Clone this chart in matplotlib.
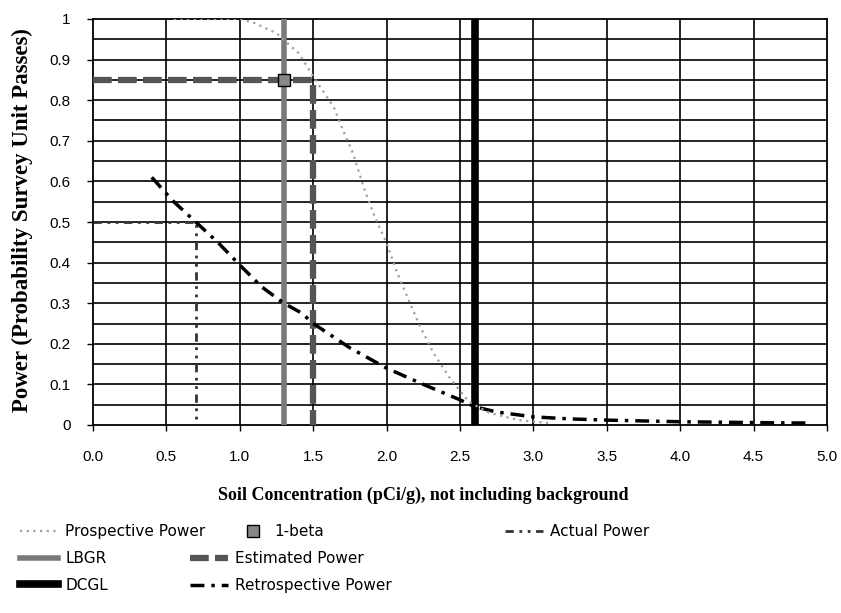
import matplotlib
matplotlib.use("Agg")
import matplotlib.pyplot as plt
from matplotlib.lines import Line2D
import numpy as np

# ---- data ----
prosp_x = [0.55, 0.8, 1.0, 1.1, 1.25, 1.4, 1.53, 1.64, 1.71, 1.77, 1.85, 1.92,
           2.0, 2.07, 2.15, 2.23, 2.32, 2.43, 2.56, 2.7, 2.9, 3.1]
prosp_y = [1.0, 1.0, 1.0, 0.99, 0.965, 0.916, 0.842, 0.783, 0.72, 0.67, 0.579, 0.512,
           0.448, 0.377, 0.308, 0.241, 0.177, 0.116, 0.057, 0.03, 0.012, 0.005]

retro_x = [0.4, 0.55, 0.7, 0.85, 1.0, 1.15, 1.3, 1.42, 1.5, 1.75, 2.0, 2.25, 2.5, 2.6,
           2.75, 3.0, 3.25, 3.5, 3.75, 4.0, 4.25, 4.5, 4.75, 4.9]
retro_y = [0.61, 0.55, 0.5, 0.45, 0.394, 0.34, 0.30, 0.276, 0.25, 0.19, 0.14, 0.10, 0.062, 0.045,
           0.032, 0.02, 0.015, 0.012, 0.01, 0.008, 0.007, 0.006, 0.005, 0.005]

est_x = [0.0, 1.5, 1.5]
est_y = [0.85, 0.85, 0.0]

actual_x = [0.0, 0.7, 0.7]
actual_y = [0.5, 0.5, 0.0]

lbgr = 1.3
dcgl = 2.6
beta_x = [1.3]
beta_y = [0.85]

x_ticks = [0.0, 0.5, 1.0, 1.5, 2.0, 2.5, 3.0, 3.5, 4.0, 4.5, 5.0]
x_tick_labels = ["0.0", "0.5", "1.0", "1.5", "2.0", "2.5", "3.0", "3.5", "4.0", "4.5", "5.0"]
y_ticks = [0, 0.1, 0.2, 0.3, 0.4, 0.5, 0.6, 0.7, 0.8, 0.9, 1]
y_tick_labels = ["0", "0.1", "0.2", "0.3", "0.4", "0.5", "0.6", "0.7", "0.8", "0.9", "1"]

# ---- figure ----
W, H = 841, 613
fig = plt.figure(figsize=(W/100, H/100), dpi=100)
ax = fig.add_axes([93/W, 1 - 425/H, (827-93)/W, (425-19)/H])
ax.set_xlim(0, 5)
ax.set_ylim(0, 1)

# grid
for gy in np.arange(0.05, 1.0, 0.05):
    ax.axhline(gy, color="black", lw=1.2, zorder=1)
for gx in x_ticks[1:-1]:
    ax.axvline(gx, color="black", lw=1.2, zorder=1)
for s in ax.spines.values():
    s.set_color("black")
    s.set_linewidth(1.3)

sty_prosp = dict(color="#a0a0a0", lw=1.6, linestyle=(0, (1, 2)))
sty_lbgr = dict(color="#7a7a7a", lw=4)
sty_dcgl = dict(color="black", lw=5.5)
sty_est = dict(color="#555555", lw=4.5, linestyle=(0, (3, 1)))
sty_retro = dict(color="black", lw=2.5, linestyle=(0, (4, 2, 1, 2)))
sty_act = dict(color="#333333", lw=2.0, linestyle=(0, (3, 2, 1, 2, 1, 2)))

ax.plot([lbgr, lbgr], [0, 1], zorder=3, **sty_lbgr)
ax.plot([dcgl, dcgl], [0, 1], zorder=3, **sty_dcgl)
ax.plot(est_x, est_y, zorder=4, **sty_est)
ax.plot(actual_x, actual_y, zorder=4, **sty_act)
ax.plot(retro_x, retro_y, zorder=5, **sty_retro)
ax.plot(prosp_x, prosp_y, zorder=5, **sty_prosp)
ax.plot(beta_x, beta_y, marker="s", ms=9, mfc="#888888", mec="black", ls="none", zorder=6)

ax.set_xticks(x_ticks)
ax.set_xticklabels(x_tick_labels)
ax.set_yticks(y_ticks)
ax.set_yticklabels(y_tick_labels)
ax.tick_params(axis="x", direction="out", length=4, width=1, labelsize=11,
               colors="black", pad=14)
ax.tick_params(axis="y", direction="out", length=4, width=1, labelsize=11,
               colors="black", pad=12)
for lab in ax.get_xticklabels() + ax.get_yticklabels():
    lab.set_fontfamily("Liberation Sans")

fig.text(423/W, 1 - 495/H, "Soil Concentration (pCi/g), not including background",
         fontfamily="Liberation Serif", fontweight="bold", fontsize=13,
         ha="center", va="center")
fig.text(22/W, 1 - 220/H, "Power (Probability Survey Unit Passes)",
         fontfamily="Liberation Serif", fontweight="bold", fontsize=16.5,
         ha="center", va="center", rotation=90)

# legend
h_prosp = Line2D([], [], **sty_prosp)
h_lbgr = Line2D([], [], **sty_lbgr)
h_dcgl = Line2D([], [], **sty_dcgl)
h_beta = Line2D([], [], marker="s", ms=8, mfc="#888888", mec="black", ls="none")
h_est = Line2D([], [], **sty_est)
h_retro = Line2D([], [], **sty_retro)
h_act = Line2D([], [], **sty_act)

leg_kw = dict(frameon=False, loc="upper left", prop={"family": "DejaVu Sans", "size": 11},
              handlelength=2.5, handletextpad=0.45, labelspacing=0.78, borderaxespad=0,
              borderpad=0)
top = 1 - 524/H
fig.legend([h_prosp, h_lbgr, h_dcgl], ["Prospective Power", "LBGR", "DCGL"],
           bbox_to_anchor=(20/W, top), **leg_kw)
fig.legend([h_est, h_retro], ["Estimated Power", "Retrospective Power"],
           bbox_to_anchor=(190/W, 1 - 551/H), **leg_kw)
kw_beta = dict(leg_kw)
kw_beta.update(handlelength=1.0, handletextpad=0.9)
fig.legend([h_beta], ["1-beta"], bbox_to_anchor=(245/W, top), **kw_beta)
fig.legend([h_act], ["Actual Power"],
           bbox_to_anchor=(505/W, top), **leg_kw)

fig.savefig("out.png", dpi=100, facecolor="white")
